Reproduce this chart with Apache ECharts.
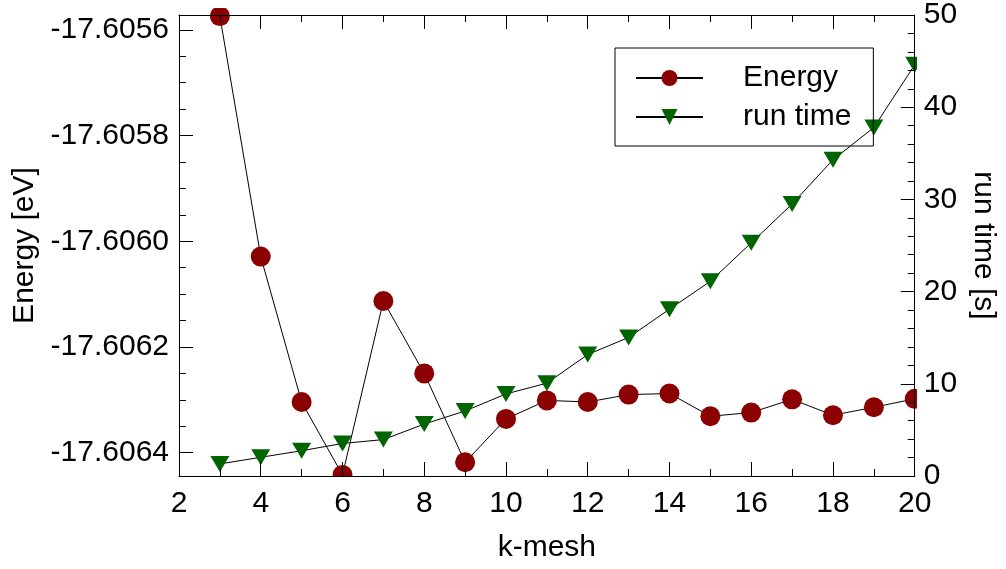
<!DOCTYPE html>
<html><head><meta charset="utf-8">
<script src="https://cdn.jsdelivr.net/npm/echarts@6/dist/echarts.min.js"></script>
<style>html,body{margin:0;padding:0;background:#fff}#c{width:1006px;height:569px}</style>
</head><body><div id="c"></div>
<script>
const kmesh = [3,4,5,6,7,8,9,10,11,12,13,14,15,16,17,18,19,20];
const energy = [-17.605574,-17.606029,-17.606304,-17.606442,-17.606113,-17.606250,-17.606418,-17.606336,-17.606301,-17.606304,-17.606290,-17.606288,-17.606331,-17.606324,-17.606299,-17.606329,-17.606314,-17.606298];
const runTime = [1.31,2.03,2.74,3.53,3.95,5.63,7.05,8.9,10.07,13.17,15.03,18.09,21.12,25.29,29.5,34.3,37.8,44.6];
const energyTicks = [-17.6064,-17.6062,-17.6060,-17.6058,-17.6056];
const energyMin = -17.606444, energyMax = -17.605572;
const energyMinor = [];
for (let i = 0; i < energyTicks.length - 1; i++) {
  for (let j = 1; j < 4; j++) energyMinor.push(+(energyTicks[i] + (energyTicks[i+1]-energyTicks[i])*j/4).toFixed(6));
}
const FF = "'Liberation Sans', Arial, sans-serif";
const txt = {fontSize:30, color:'#000', fontFamily:FF};
const axLine = {show:true, lineStyle:{color:'#000', width:1}};
const chart = echarts.init(document.getElementById('c'), null, {renderer:'canvas'});
chart.setOption({
  animation:false,
  backgroundColor:'#fff',
  grid:{left:179, right:90, top:8, bottom:93, containLabel:false},
  graphic:[
    {type:'rect', z:5, shape:{x:0,y:0,width:1006,height:8}, style:{fill:'#fff'}},
    {type:'rect', z:5, shape:{x:0,y:477,width:1006,height:92}, style:{fill:'#fff'}},
    {type:'rect', z:5, shape:{x:917,y:0,width:89,height:569}, style:{fill:'#fff'}}
  ],
  legend:{
    data:['Energy','run time'], orient:'vertical', left:615, top:48,
    padding:[15,22,14,20], itemGap:9, itemWidth:67, itemHeight:20,
    borderColor:'#000', borderWidth:1, borderRadius:0, backgroundColor:'transparent',
    textStyle:Object.assign({padding:[0,0,0,35]}, txt), z:4
  },
  xAxis:[
    {type:'value', min:2, max:20, interval:2, position:'bottom', z:10,
     axisLine:axLine, splitLine:{show:false},
     axisTick:{inside:true, length:14, lineStyle:{color:'#000'}},
     minorTick:{show:true, splitNumber:2, length:7, lineStyle:{color:'#000'}},
     axisLabel:Object.assign({margin:13}, txt),
     name:'k-mesh', nameLocation:'middle', nameGap:57, nameTextStyle:txt},
    {type:'value', min:2, max:20, interval:2, position:'top', z:10,
     axisLine:axLine, splitLine:{show:false},
     axisTick:{inside:true, length:14, lineStyle:{color:'#000'}},
     minorTick:{show:true, splitNumber:2, length:7, lineStyle:{color:'#000'}},
     axisLabel:{show:false}}
  ],
  yAxis:[
    {type:'value', min:energyMin, max:energyMax, position:'left', z:10,
     axisLine:axLine, splitLine:{show:false},
     axisTick:{inside:true, length:14, lineStyle:{color:'#000'}, customValues:energyTicks},
     axisLabel:Object.assign({margin:10, customValues:energyTicks, formatter:v=>v.toFixed(4)}, txt),
     name:'Energy [eV]', nameLocation:'middle', nameGap:136, nameTextStyle:txt},
    {type:'value', min:0, max:50, interval:10, position:'right', z:10,
     axisLine:axLine, splitLine:{show:false},
     axisTick:{inside:true, length:14, lineStyle:{color:'#000'}},
     minorTick:{show:true, splitNumber:5, length:7, lineStyle:{color:'#000'}},
     axisLabel:Object.assign({margin:9}, txt),
     name:'run time [s]', nameLocation:'middle', nameRotate:-90, nameGap:51, nameTextStyle:txt},
    {type:'value', min:energyMin, max:energyMax, position:'left', offset:0, z:10,
     axisLine:{show:false}, splitLine:{show:false}, axisLabel:{show:false},
     axisTick:{show:true, inside:true, length:7, lineStyle:{color:'#000'}, customValues:energyMinor}}
  ],
  series:[
    {name:'run time', type:'line', xAxisIndex:0, yAxisIndex:1, z:2,
     data:kmesh.map((k,i)=>[k, runTime[i]]),
     symbol:'triangle', symbolRotate:180, symbolSize:[19,16], showAllSymbol:true,
     itemStyle:{color:'#006400'}, lineStyle:{color:'#000', width:1}, emphasis:{disabled:true}},
    {name:'Energy', type:'line', xAxisIndex:0, yAxisIndex:0, z:3,
     data:kmesh.map((k,i)=>[k, energy[i]]),
     symbol:'circle', symbolSize:20, showAllSymbol:true,
     itemStyle:{color:'#8b0000'}, lineStyle:{color:'#000', width:1}, emphasis:{disabled:true}}
  ]
});
</script></body></html>
